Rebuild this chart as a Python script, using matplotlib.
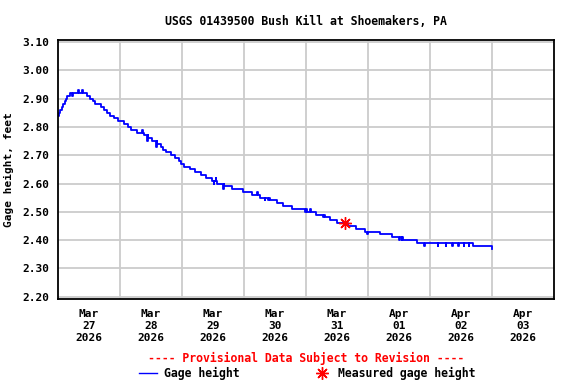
import numpy as np
import pandas as pd
import matplotlib
matplotlib.use("Agg")
import matplotlib.pyplot as plt
from matplotlib.lines import Line2D

# gage height step changes: hours after 2026-03-27 00:00, feet
step_hours = [0.0, 0.4, 0.8, 1.7, 2.1, 2.7, 3.1, 3.5, 4.6, 11.2, 12.4, 13.5, 14.3,
              16.6, 17.8, 19.0, 20.1, 21.7, 23.2, 25.5, 27.1, 28.3, 30.6, 33.3,
              34.8, 36.4, 38.3, 39.9, 40.6, 41.8, 43.7, 45.3, 46.8, 47.6, 48.8,
              51.1, 53.0, 55.4, 57.3, 59.6, 61.6, 64.3, 67.4, 71.6, 75.1, 78.2,
              81.3, 84.8, 87.1, 90.6, 95.6, 99.9, 102.6, 105.3, 108.0, 112.3,
              115.4, 118.9, 124.6, 129.3, 133.6, 139.0, 160.6, 168.0]
step_values = [2.84, 2.85, 2.86, 2.87, 2.88, 2.89, 2.90, 2.91, 2.92, 2.91, 2.90, 2.89, 2.88,
               2.87, 2.86, 2.85, 2.84, 2.83, 2.82, 2.81, 2.80, 2.79, 2.78, 2.77,
               2.76, 2.75, 2.74, 2.73, 2.72, 2.71, 2.70, 2.69, 2.68, 2.67, 2.66,
               2.65, 2.64, 2.63, 2.62, 2.61, 2.60, 2.59, 2.58, 2.57, 2.56, 2.55,
               2.54, 2.53, 2.52, 2.51, 2.50, 2.49, 2.48, 2.47, 2.46, 2.45,
               2.44, 2.43, 2.42, 2.41, 2.40, 2.39, 2.38, 2.37]

# short one-reading blips (hour, value)
blip_hours = [5.5, 7.7, 9.3, 17.0, 32.5, 34.5, 38.0, 48.0, 59.0, 60.2, 61.0, 64.0,
              70.5, 77.0, 80.0, 81.8, 94.5, 96.0, 97.5, 99.0, 103.0, 104.5,
              119.6, 132.0, 133.0, 137.0, 138.0, 141.7, 147.0, 150.0, 152.5,
              155.0, 157.0, 159.0]
blip_values = [2.91, 2.93, 2.93, 2.87, 2.79, 2.75, 2.73, 2.67, 2.62, 2.60, 2.62, 2.58,
               2.58, 2.57, 2.54, 2.55, 2.51, 2.51, 2.51, 2.50, 2.49, 2.48,
               2.42, 2.40, 2.40, 2.40, 2.40, 2.38, 2.38, 2.38, 2.38,
               2.38, 2.38, 2.38]

# field measurement
meas_hours = [111.1]
meas_values = [2.46]

day_labels = ["Mar\n27\n2026", "Mar\n28\n2026", "Mar\n29\n2026", "Mar\n30\n2026",
              "Mar\n31\n2026", "Apr\n01\n2026", "Apr\n02\n2026", "Apr\n03\n2026"]

start = pd.Timestamp("2026-03-27 00:00")

# merge blips into the step series
pts = list(zip(step_hours, step_values))
for h, v in zip(blip_hours, blip_values):
    i = np.searchsorted(step_hours, h, side="right") - 1
    pts.append((h, v))
    pts.append((h + 0.25, step_values[i]))
pts.sort()
hrs = np.array([p[0] for p in pts])
vals = np.array([p[1] for p in pts])
t = start + pd.to_timedelta(hrs, unit="h")
tm = start + pd.to_timedelta(meas_hours, unit="h")

plt.rcParams["font.family"] = "DejaVu Sans Mono"
plt.rcParams["font.weight"] = "bold"
plt.rcParams["axes.titleweight"] = "bold"
plt.rcParams["axes.labelweight"] = "bold"
plt.rcParams["font.size"] = 8

fig = plt.figure(figsize=(5.76, 3.84), dpi=100)
ax = fig.add_axes([58 / 576, 1 - 299 / 384, 496 / 576, 259 / 384])

ax.plot(t, vals, color="#0000ff", lw=1.3, drawstyle="steps-post")
ax.plot(tm, meas_values, ls="none", marker=(8, 2, 0), ms=9, mew=1.0, color="#ff0000")

ax.set_xlim(start, start + pd.Timedelta(days=8))
ax.set_ylim(2.192, 3.107)
ax.set_yticks(np.arange(2.2, 3.101, 0.1))
ax.set_yticklabels(["%.2f" % v for v in np.arange(2.2, 3.101, 0.1)])

major = [start + pd.Timedelta(days=d) for d in range(1, 8)]
minor = [start + pd.Timedelta(days=d, hours=12) for d in range(8)]
ax.set_xticks(major)
ax.set_xticklabels([])
ax.set_xticks(minor, minor=True)
ax.set_xticklabels(day_labels, minor=True, linespacing=1.25)

ax.grid(True, which="major", color="#cccccc", lw=1.3)
ax.set_axisbelow(True)
ax.tick_params(which="both", length=0)
ax.tick_params(axis="y", pad=6)
ax.tick_params(axis="x", which="minor", pad=7)
for s in ax.spines.values():
    s.set_linewidth(1.3)

ax.set_ylabel("Gage height, feet", labelpad=6)
ax.set_title("USGS 01439500 Bush Kill at Shoemakers, PA", fontsize=8.3, pad=11)

fig.text(306 / 576, 1 - 358 / 384, "---- Provisional Data Subject to Revision ----",
         color="#ff0000", ha="center", va="center", fontsize=8.3)

handles = [Line2D([], [], color="#0000ff", lw=1.0),
           Line2D([], [], ls="none", marker=(8, 2, 0), ms=9, mew=1.0, color="#ff0000")]
fig.legend(handles, ["Gage height", "Measured gage height"], ncol=2,
           loc="center", bbox_to_anchor=(307 / 576, 1 - 373 / 384), frameon=False,
           handlelength=1.6, handletextpad=0.6, columnspacing=6.3,
           borderpad=0, borderaxespad=0, prop={"size": 8.3, "weight": "bold"})

fig.savefig("out.png", dpi=100)
